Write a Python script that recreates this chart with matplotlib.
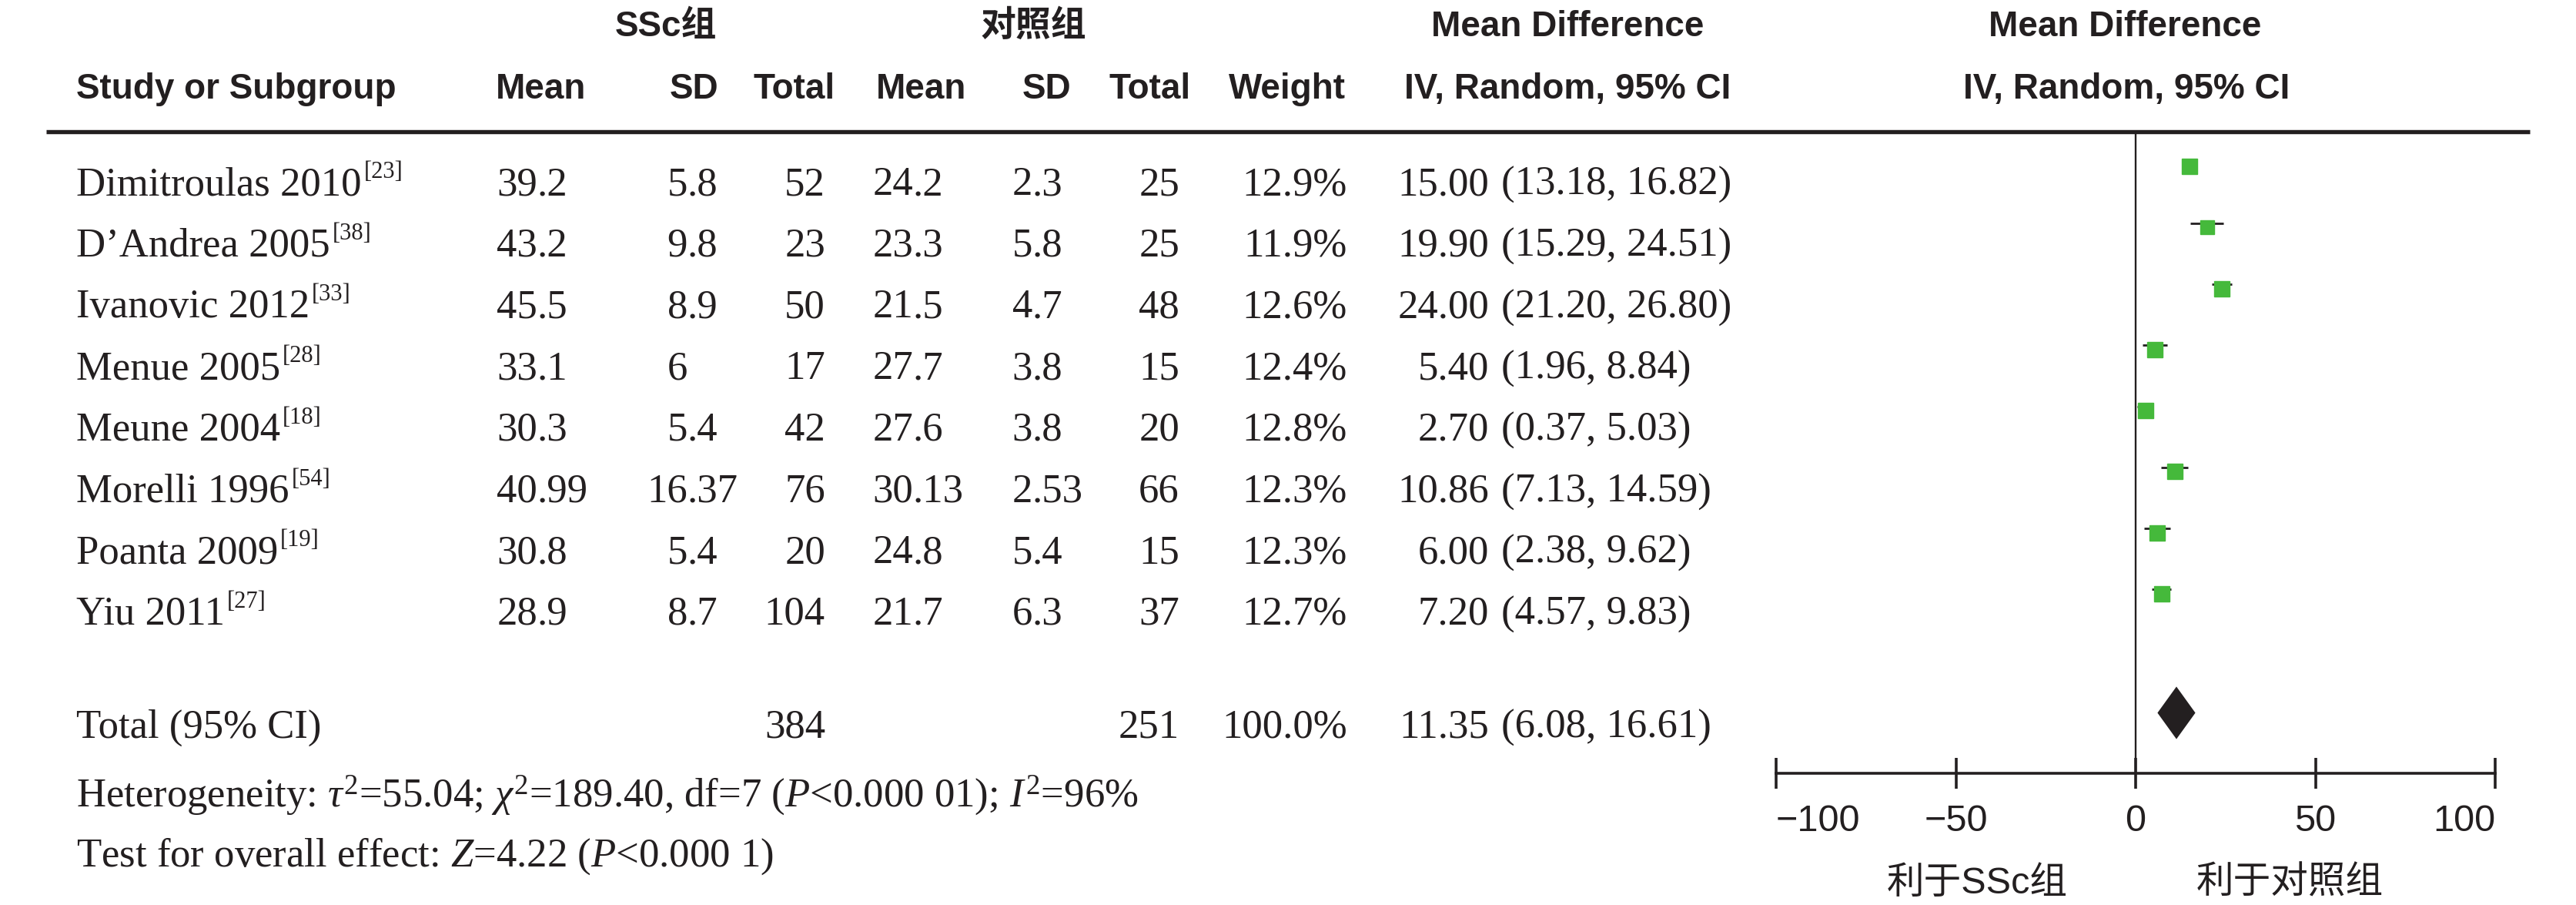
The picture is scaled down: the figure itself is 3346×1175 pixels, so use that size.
import matplotlib
matplotlib.use("Agg")
import matplotlib.pyplot as plt
import numpy as np

# data
studies = ["Dimitroulas 2010", "D\u2019Andrea 2005", "Ivanovic 2012", "Menue 2005",
           "Meune 2004", "Morelli 1996", "Poanta 2009", "Yiu 2011"]
refs = ["23", "38", "33", "28", "18", "54", "19", "27"]
ssc_mean = [39.2, 43.2, 45.5, 33.1, 30.3, 40.99, 30.8, 28.9]
ssc_sd = [5.8, 9.8, 8.9, 6, 5.4, 16.37, 5.4, 8.7]
ssc_n = [52, 23, 50, 17, 42, 76, 20, 104]
ctl_mean = [24.2, 23.3, 21.5, 27.7, 27.6, 30.13, 24.8, 21.7]
ctl_sd = [2.3, 5.8, 4.7, 3.8, 3.8, 2.53, 5.4, 6.3]
ctl_n = [25, 25, 48, 15, 20, 66, 15, 37]
weights = [12.9, 11.9, 12.6, 12.4, 12.8, 12.3, 12.3, 12.7]
md = [15.00, 19.90, 24.00, 5.40, 2.70, 10.86, 6.00, 7.20]
md_lo = [13.18, 15.29, 21.20, 1.96, 0.37, 7.13, 2.38, 4.57]
md_hi = [16.82, 24.51, 26.80, 8.84, 5.03, 14.59, 9.62, 9.83]
total_ssc_n, total_ctl_n, total_weight = 384, 251, 100.0
total_md, total_lo, total_hi = 11.35, 6.08, 16.61
xticks = [-100, -50, 0, 50, 100]

INK = "#231f20"
GREEN = "#45b93b"
W, H = 3346, 1175

plt.rcParams["mathtext.fontset"] = "custom"
plt.rcParams["mathtext.rm"] = "Liberation Serif"
plt.rcParams["mathtext.it"] = "Liberation Serif:italic"
plt.rcParams["mathtext.bf"] = "Liberation Serif:bold"

SERIF = dict(family=["Liberation Serif", "DejaVu Serif"], fontsize=38, color=INK)
SUP = dict(family=["Liberation Serif", "DejaVu Serif"], fontsize=22, color=INK)
HEAD = dict(family=["Liberation Sans", "Noto Sans CJK SC"], fontsize=33,
            fontweight="bold", color=INK)
SANS = dict(family=["Liberation Sans", "Noto Sans CJK SC"], fontsize=35, color=INK)

fig = plt.figure(figsize=(W / 100, H / 100), dpi=100)
bg = fig.add_axes([0, 0, 1, 1])
bg.set_xlim(0, W)
bg.set_ylim(H, 0)
bg.axis("off")
renderer = fig.canvas.get_renderer()

# header
hy1, hy2 = 47, 128
bg.text(865, hy1, "SSc组", ha="center", va="baseline", **HEAD)
bg.text(1342, hy1, "对照组", ha="center", va="baseline", **HEAD)
bg.text(2036, hy1, "Mean Difference", ha="center", va="baseline", **HEAD)
bg.text(2760, hy1, "Mean Difference", ha="center", va="baseline", **HEAD)
bg.text(99, hy2, "Study or Subgroup", ha="left", va="baseline", **HEAD)
for x, s in [(703, "Mean"), (902, "SD"), (1032, "Total"), (1197, "Mean"),
             (1360, "SD"), (1494, "Total"), (1672, "Weight"),
             (2036, "IV, Random, 95% CI"), (2762, "IV, Random, 95% CI")]:
    bg.text(x, hy2, s, ha="center", va="baseline", **HEAD)
bg.plot([60, 3286], [171, 171], color=INK, lw=3.9, solid_capstyle="butt")


def dec_text(x, y, v):
    ip, _, fp = f"{v:g}".partition(".")
    bg.text(x, y, ip, ha="right", va="baseline", **SERIF)
    if fp:
        bg.text(x, y, "." + fp, ha="left", va="baseline", **SERIF)


row0, step = 253, 79.7
for i, name in enumerate(studies):
    y = row0 + step * i
    t = bg.text(99, y, name, ha="left", va="baseline", **SERIF)
    xe = t.get_window_extent(renderer).x1 + 3
    bg.text(xe, y - 22, "[" + refs[i] + "]", ha="left", va="baseline", **SUP)
    dec_text(698, y, ssc_mean[i])
    dec_text(893, y, ssc_sd[i])
    bg.text(1072, y, f"{ssc_n[i]}", ha="right", va="baseline", **SERIF)
    dec_text(1186, y, ctl_mean[i])
    dec_text(1341, y, ctl_sd[i])
    bg.text(1532, y, f"{ctl_n[i]}", ha="right", va="baseline", **SERIF)
    bg.text(1750, y, f"{weights[i]:.1f}%", ha="right", va="baseline", **SERIF)
    bg.text(1934, y, f"{md[i]:.2f}", ha="right", va="baseline", **SERIF)
    bg.text(1950, y, f"({md_lo[i]:.2f}, {md_hi[i]:.2f})", ha="left", va="baseline", **SERIF)

yt = 958
bg.text(99, yt, "Total (95% CI)", ha="left", va="baseline", **SERIF)
bg.text(1072, yt, f"{total_ssc_n}", ha="right", va="baseline", **SERIF)
bg.text(1532, yt, f"{total_ctl_n}", ha="right", va="baseline", **SERIF)
bg.text(1750, yt, f"{total_weight:.1f}%", ha="right", va="baseline", **SERIF)
bg.text(1934, yt, f"{total_md:.2f}", ha="right", va="baseline", **SERIF)
bg.text(1950, yt, f"({total_lo:.2f}, {total_hi:.2f})", ha="left", va="baseline", **SERIF)
bg.text(99, 1047, r"Heterogeneity: $\tau^2$=55.04; $\chi^2$=189.40, df=7 ($P$<0.000 01); $I^2$=96%",
        ha="left", va="baseline", **SERIF)
bg.text(99, 1125, r"Test for overall effect: $Z$=4.22 ($P$<0.000 1)",
        ha="left", va="baseline", **SERIF)

# forest panel
x0, x1, ytop, ybot = 2307, 3241, 171, 1004
ax = fig.add_axes([x0 / W, 1 - ybot / H, (x1 - x0) / W, (ybot - ytop) / H])
ax.set_xlim(-100, 100)
ax.set_ylim(9.94, -0.57)
ax.patch.set_alpha(0)
for s in ["top", "left", "right"]:
    ax.spines[s].set_visible(False)
ax.spines["bottom"].set_linewidth(2.6)
ax.spines["bottom"].set_color(INK)
ax.set_yticks([])
ax.set_xticks(xticks)
ax.set_xticklabels([f"{t:g}".replace("-", "\u2212") for t in xticks], **SANS)
ax.tick_params(axis="x", direction="inout", length=29, width=2.6, color=INK, pad=14)
labs = ax.get_xticklabels()
labs[0].set_ha("left")
labs[-1].set_ha("right")

ax.axvline(0, color=INK, lw=1.7, zorder=1)
rows = np.arange(len(studies))
ax.hlines(rows - 0.07, md_lo, md_hi, color=INK, lw=2.0, zorder=2)
for i in rows:
    ax.plot(md[i], rows[i], marker="s", ms=14 * np.sqrt(weights[i] / 12.5),
            color=GREEN, mec=GREEN, ls="none", zorder=3)
ty, dh = 8.95, 0.43
ax.fill([total_lo, total_md, total_hi, total_md], [ty, ty - dh, ty, ty + dh],
        color=INK, lw=0, zorder=3)

bg.text(2568, 1160, "利于SSc组", ha="center", va="baseline", **SANS)
bg.text(2974, 1160, "利于对照组", ha="center", va="baseline", **SANS)

fig.savefig("out.png", dpi=100)
